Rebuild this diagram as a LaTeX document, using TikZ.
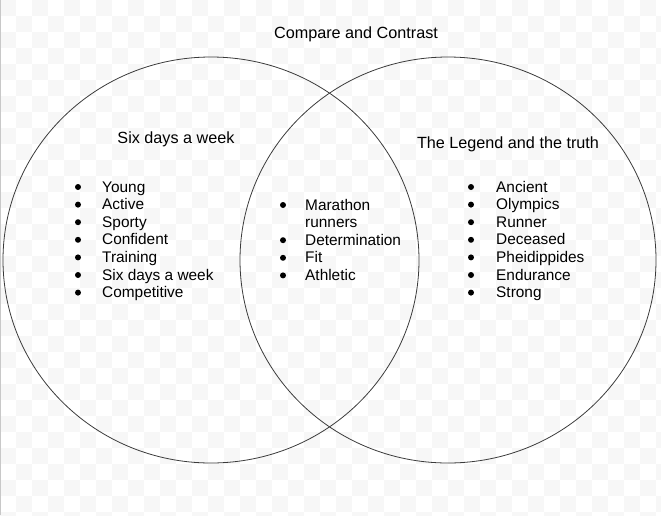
\documentclass[tikz,border=0pt]{standalone}
\usepackage{fontspec}
\setmainfont{Liberation Sans}
\definecolor{checkgray}{HTML}{F7F7F7}
\definecolor{rimgray}{HTML}{C8C8C8}
\definecolor{ringgray}{HTML}{3A3A3A}
\tikzset{
  item/.style={anchor=base west, inner sep=0pt, font=\fontsize{15.4}{17}\selectfont},
  heading/.style={anchor=base, inner sep=0pt, font=\fontsize{16.2}{18}\selectfont},
  bulletdot/.style={circle, fill, inner sep=0pt, minimum size=6pt},
  ring/.style={draw=ringgray, line width=0.8pt}
}
\begin{document}
\begin{tikzpicture}[x=1pt, y=-1pt]
\useasboundingbox (0,0) rectangle (661,515);
\begin{scope}
\clip (0,0) rectangle (661,515);
\foreach \i in {0,2,...,40}
  \foreach \j in {0,2,...,32}
    {\fill[checkgray] (\i*16,\j*16) rectangle ++(16,16);
     \fill[checkgray] (\i*16+16,\j*16+16) rectangle ++(16,16);}
\end{scope}
\draw[rimgray, line width=1.2pt] (0.6,0) -- (0.6,515);

\node[heading] (title) at (356,38) {Compare and Contrast};

% the two circles
\draw[ring] (211,260) ellipse [x radius=208pt, y radius=203pt];
\draw[ring] (448,260) ellipse [x radius=208pt, y radius=203pt];

% left side
\node[heading] (lefthead) at (176,143) {Six days a week};
\node[item] (young) at (102,192) {Young};
\node[item] (active) at (102,209.6) {Active};
\node[item] (sporty) at (102,227.2) {Sporty};
\node[item] (confident) at (102,244.8) {Confident};
\node[item] (training) at (102,262.4) {Training};
\node[item] (sixdays) at (102,280) {Six days a week};
\node[item] (competitive) at (102,297.6) {Competitive};
\node[bulletdot] (byoung) at (78,187) {};
\node[bulletdot] (bactive) at (78,204.6) {};
\node[bulletdot] (bsporty) at (78,222.2) {};
\node[bulletdot] (bconfident) at (78,239.8) {};
\node[bulletdot] (btraining) at (78,257.4) {};
\node[bulletdot] (bsixdays) at (78,275) {};
\node[bulletdot] (bcompetitive) at (78,292.6) {};

% middle
\node[item] (marathon) at (305,210) {Marathon};
\node[item] (runners) at (305,227.6) {runners};
\node[item] (determination) at (305,245.2) {Determination};
\node[item] (fit) at (305,262.8) {Fit};
\node[item] (athletic) at (305,280.4) {Athletic};
\node[bulletdot] (bmarathon) at (283,205) {};
\node[bulletdot] (bdetermination) at (283,240.2) {};
\node[bulletdot] (bfit) at (283,257.8) {};
\node[bulletdot] (bathletic) at (283,275.4) {};

% right side
\node[heading] (righthead) at (508,148) {The Legend and the truth};
\node[item] (ancient) at (496,192) {Ancient};
\node[item] (olympics) at (496,209.6) {Olympics};
\node[item] (runner) at (496,227.2) {Runner};
\node[item] (deceased) at (496,244.8) {Deceased};
\node[item] (pheidippides) at (496,262.4) {Pheidippides};
\node[item] (endurance) at (496,280) {Endurance};
\node[item] (strong) at (496,297.6) {Strong};
\node[bulletdot] (bancient) at (471,187) {};
\node[bulletdot] (bolympics) at (471,204.6) {};
\node[bulletdot] (brunner) at (471,222.2) {};
\node[bulletdot] (bdeceased) at (471,239.8) {};
\node[bulletdot] (bpheidippides) at (471,257.4) {};
\node[bulletdot] (bendurance) at (471,275) {};
\node[bulletdot] (bstrong) at (471,292.6) {};
\end{tikzpicture}
\end{document}
